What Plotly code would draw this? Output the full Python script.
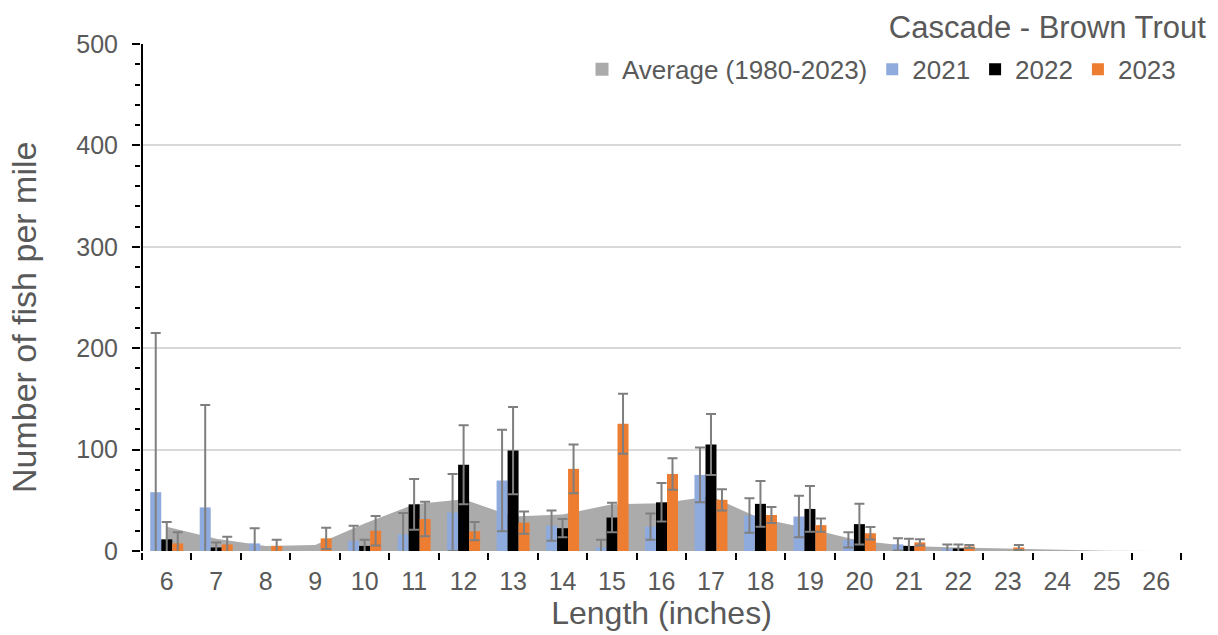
import plotly.graph_objects as go

# Length classes (inches)
lengths = list(range(6, 27))
tick_labels = [str(v) for v in lengths]

# Long-term average, fish per mile
avg_1980_2023 = [24, 12, 5, 6, 27, 46, 51, 34, 36, 46, 47, 54, 32, 22, 10, 5, 3.5, 2.5, 1, 0.3, 0]

# Yearly estimates and their confidence half-widths
y2021 = [58, 43, 7.5, None, 10, 16.5, 38, 69.5, 25, 3.6, 24, 75, 35, 34, 11, 6.5, 2.5, None, None, None, None]
e2021 = [157, 101, 15, None, 15, 21, 38, 50, 15, 7.5, 13, 27, 17, 20.5, 7.5, 6, 4, None, None, None, None]

y2022 = [11.5, 3.5, None, None, 5, 46, 85, 99, 22.5, 33, 48, 105, 46.5, 41.5, 26.5, 5, 2.5, None, None, None, None]
e2022 = [17, 5, None, None, 6, 25, 39, 43, 9, 14.5, 19, 30, 22.5, 22.5, 20, 7, 4, None, None, None, None]

y2023 = [7.5, 6.5, 5, 12.5, 20, 31.5, 19.5, 28, 81, 125.5, 76, 50.5, 35.5, 25.5, 17.5, 8.5, 4.5, 3.5, None, None, None]
e2023 = [11, 7.5, 6, 10.5, 14.5, 17, 9, 11, 24, 29.5, 15.5, 10.5, 8, 6.5, 6.2, 3, 1.5, 2.5, None, None, None]

FONT = "Liberation Sans, Arial, sans-serif"
TEXT_GRAY = "#595959"
ERR_GRAY = "#7F7F7F"
AVG_GRAY = "#ABABAB"

fig = go.Figure()

# Shaded long-term average, kept behind the bars
fig.add_trace(go.Scatter(
    x=lengths, y=avg_1980_2023, name="Average (1980-2023)",
    mode="lines", line=dict(color=AVG_GRAY, width=0),
    fill="tozeroy", fillcolor=AVG_GRAY, zorder=-1, showlegend=False,
))
# Square legend key for the average
fig.add_trace(go.Scatter(
    x=[None], y=[None], name="Average (1980-2023)", mode="markers",
    marker=dict(symbol="square", size=13, color=AVG_GRAY),
))

for name, vals, errs, color in [
    ("2021", y2021, e2021, "#8FAADC"),
    ("2022", y2022, e2022, "#000000"),
    ("2023", y2023, e2023, "#ED7D31"),
]:
    fig.add_trace(go.Bar(
        x=lengths, y=vals, name=name, marker=dict(color=color, line=dict(width=0)),
        error_y=dict(type="data", array=errs, visible=True, color=ERR_GRAY, thickness=2, width=5),
        zorder=1,
    ))

fig.update_layout(
    width=1218, height=635,
    margin=dict(l=142, r=37, t=44, b=84),
    paper_bgcolor="white", plot_bgcolor="white",
    barmode="group", bargap=0.333, bargroupgap=0,
    font=dict(family=FONT, color=TEXT_GRAY),
    title=dict(
        text="Cascade - Brown Trout", font=dict(size=31, color=TEXT_GRAY, family=FONT),
        xref="container", x=0.99, xanchor="right", yref="container", y=0.957, yanchor="middle",
    ),
    legend=dict(
        orientation="h", x=1, xanchor="right", y=0.95, yanchor="middle",
        font=dict(size=26, color=TEXT_GRAY), bgcolor="rgba(0,0,0,0)",
        traceorder="normal",
    ),
    showlegend=True,
    shapes=[dict(type="line", xref="paper", yref="paper", x0=0, x1=0, y0=0, y1=1,
                 line=dict(color="black", width=2), layer="above")],
    annotations=[dict(
        text="Number of fish per mile", textangle=-90, showarrow=False,
        xref="paper", yref="paper", x=-0.1135, y=0.4596, xanchor="center", yanchor="middle",
        font=dict(size=34, color=TEXT_GRAY, family=FONT),
    )],
)

fig.update_xaxes(
    range=[5.5, 26.5], tickmode="array", tickvals=lengths, ticktext=tick_labels,
    ticks="outside", ticklen=7, tickcolor="rgba(0,0,0,0)",
    tickfont=dict(size=25, color=TEXT_GRAY),
    showline=True, linecolor="black", linewidth=2, showgrid=False, zeroline=False,
    minor=dict(tick0=5.5, dtick=1, ticks="outside", ticklen=7, tickcolor="black", tickwidth=2, showgrid=False),
    title=dict(text="Length (inches)", font=dict(size=32, color=TEXT_GRAY), standoff=6),
)

fig.update_yaxes(
    range=[0, 500], dtick=100, ticks="outside", ticklen=8, tickcolor="black", tickwidth=2,
    tickfont=dict(size=25, color=TEXT_GRAY), ticklabelstandoff=9,
    showline=True, linecolor="black", linewidth=2,
    showgrid=True, gridcolor="#D9D9D9", gridwidth=1.5, zeroline=False,
    minor=dict(dtick=20, ticks="outside", ticklen=5, tickcolor="black", tickwidth=1.5, showgrid=False),
)

fig.write_html("out.html")
